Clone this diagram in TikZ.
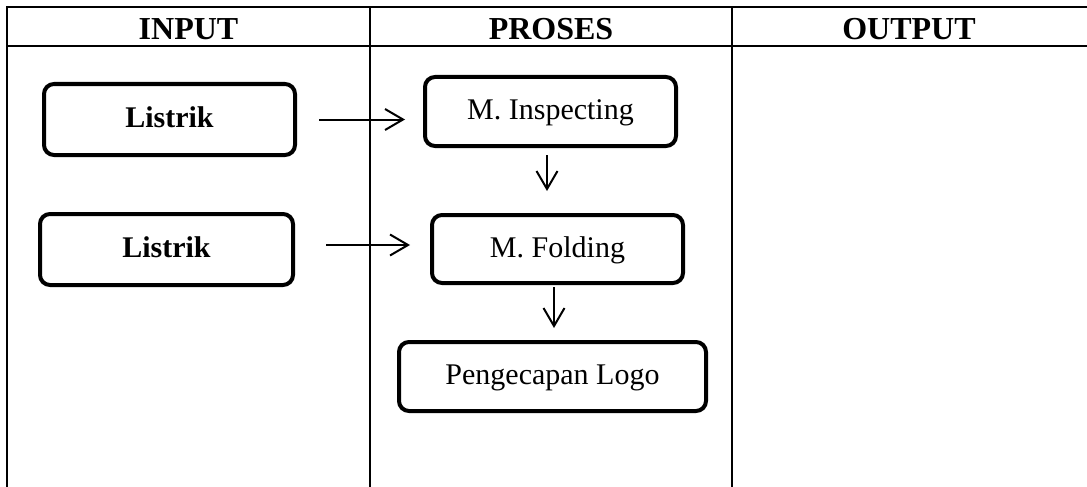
\documentclass[tikz,border=0pt]{standalone}
\usepackage{fontspec}
\setmainfont{Liberation Serif}
\usetikzlibrary{arrows.meta}
\begin{document}
\begin{tikzpicture}[x=1pt,y=-1pt,
  tbl/.style={line width=2pt},
  hdr/.style={anchor=base,inner sep=0pt,font=\fontsize{32}{38}\selectfont\bfseries},
  box/.style={draw,line width=4pt,rounded corners=10pt,inner sep=0pt,
    text height=22.5pt,text depth=6pt,font=\fontsize{30}{36}\selectfont},
  arr/.style={line width=2pt,-{Straight Barb[length=18pt,width=21pt]}}]
\useasboundingbox (0,0) rectangle (1087,487);
% table
\draw[tbl] (7,487) -- (7,7) -- (1087,7);
\draw[tbl] (7,46.5) -- (1087,46.5);
\draw[tbl] (370,7) -- (370,487);
\draw[tbl] (731.5,7) -- (731.5,487);
\node[hdr] (hin) at (188.5,39.3) {INPUT};
\node[hdr] (hpr) at (551,39.3) {PROSES};
\node[hdr] (hout) at (909,39.3) {OUTPUT};
% boxes
\node[box,minimum width=251pt,minimum height=71pt] (L1) at (169.5,119.5) {\bfseries Listrik};
\node[box,minimum width=253pt,minimum height=71pt] (L2) at (166.5,249.5) {\bfseries Listrik};
\node[box,minimum width=251pt,minimum height=69pt] (MI) at (550.5,111.5) {M. Inspecting};
\node[box,minimum width=251pt,minimum height=68pt] (MF) at (557.5,249) {M. Folding};
\node[box,minimum width=307pt,minimum height=69pt] (PL) at (552.5,376.5) {Pengecapan Logo};
% arrows
\draw[arr,shorten <=22pt,shorten >=18pt] (L1.east) -- (L1.east -| MI.west);
\draw[arr,shorten <=31pt,shorten >=20pt] ([yshift=4.5pt]L2.east) -- ([yshift=4.5pt]L2.east -| MF.west);
\draw[arr,shorten <=7pt,shorten >=22pt] ([xshift=-3.5pt]MI.south) -- ([xshift=-3.5pt]MI.south |- MF.north);
\draw[arr,shorten <=2pt,shorten >=12pt] ([xshift=-3.5pt]MF.south) -- ([xshift=-3.5pt]MF.south |- PL.north);
\end{tikzpicture}
\end{document}
